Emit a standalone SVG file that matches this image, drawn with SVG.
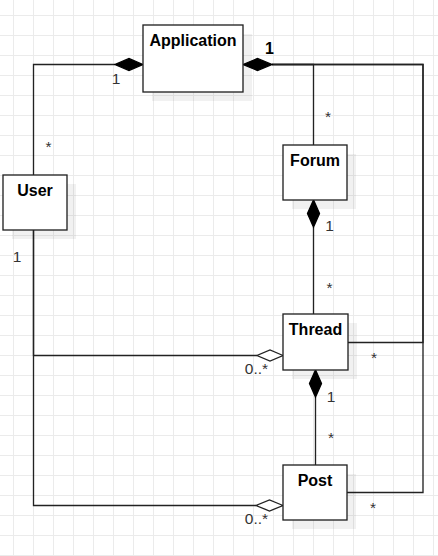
<svg xmlns="http://www.w3.org/2000/svg" width="438" height="556" viewBox="0 0 438 556">
<defs>
<pattern id="grid" x="13" y="15" width="20" height="20" patternUnits="userSpaceOnUse">
<path d="M0.5 0V20M0 0.5H20" stroke="#ebebeb" stroke-width="1" fill="none"/>
</pattern>
<style>
.box{fill:#fff;stroke:#222;stroke-width:1.33}
.shadow{fill:#000;opacity:0.055}
.title{font-family:"Liberation Sans",Arial,sans-serif;font-size:16px;font-weight:bold;fill:#000;text-anchor:middle}
.lbl{font-family:"Liberation Sans",Arial,sans-serif;font-size:15.5px;fill:#333;text-anchor:middle}
.edge{fill:none;stroke:#222;stroke-width:1.33}
.fd{fill:#000;stroke:#000;stroke-width:1.33}
.hd{fill:#fff;stroke:#222;stroke-width:1.33}
</style>
</defs>
<rect width="438" height="556" fill="#fff"/>
<rect width="438" height="556" fill="url(#grid)"/>

<g id="connectors">
<path class="edge" d="M33.5 175V64.5H115"/>
<path class="edge" d="M272 64.5H313.5V145"/>
<path class="edge" d="M272 64.5H423V342.5H348"/>
<path class="edge" d="M272 64.5H423V492.5H347"/>
<path class="edge" d="M313.5 227V314"/>
<path class="edge" d="M315.5 397V465"/>
<path class="edge" d="M33.5 230V355.5H257"/>
<path class="edge" d="M33.5 230V505.5H256"/>
<path class="fd" d="M143 64.5L129 58.5L115 64.5L129 70.5Z"/>
<path class="fd" d="M243 64.5L257.5 58.5L272 64.5L257.5 70.5Z"/>
<path class="fd" d="M313.5 200L307.5 213.5L313.5 227L319.5 213.5Z"/>
<path class="fd" d="M315.5 370L309.5 383.5L315.5 397L321.5 383.5Z"/>
<path class="hd" d="M283 355.5L270 350L257 355.5L270 361Z"/>
<path class="hd" d="M283 505.5L269.5 500L256 505.5L269.5 511Z"/>
<text class="lbl" x="116" y="83.5">1</text>
<text class="lbl" x="48.5" y="152">*</text>
<text class="lbl" x="17" y="261.5">1</text>
<text class="title" x="269.5" y="54">1</text>
<text class="lbl" x="328" y="122">*</text>
<text class="lbl" x="329.5" y="231">1</text>
<text class="lbl" x="329.5" y="293">*</text>
<text class="lbl" x="374" y="363">*</text>
<text class="lbl" x="256.5" y="374">0..*</text>
<text class="lbl" x="331" y="401.5">1</text>
<text class="lbl" x="331" y="442.5">*</text>
<text class="lbl" x="256.5" y="524">0..*</text>
<text class="lbl" x="373" y="513">*</text>
</g>

<g id="Application">
<rect class="shadow" x="152" y="34" width="100" height="67"/>
<rect class="box" x="143" y="25" width="100" height="67"/>
<text class="title" x="193" y="46">Application</text>
</g>
<g id="User">
<rect class="shadow" x="12" y="184" width="64" height="55"/>
<rect class="box" x="3" y="175" width="64" height="55"/>
<text class="title" x="35" y="196">User</text>
</g>
<g id="Forum">
<rect class="shadow" x="292" y="154" width="64" height="55"/>
<rect class="box" x="283" y="145" width="64" height="55"/>
<text class="title" x="315" y="166">Forum</text>
</g>
<g id="Thread">
<rect class="shadow" x="292" y="323" width="65" height="56"/>
<rect class="box" x="283" y="314" width="65" height="56"/>
<text class="title" x="315.5" y="335">Thread</text>
</g>
<g id="Post">
<rect class="shadow" x="292" y="474" width="64" height="55"/>
<rect class="box" x="283" y="465" width="64" height="55"/>
<text class="title" x="315" y="486">Post</text>
</g>
</svg>
